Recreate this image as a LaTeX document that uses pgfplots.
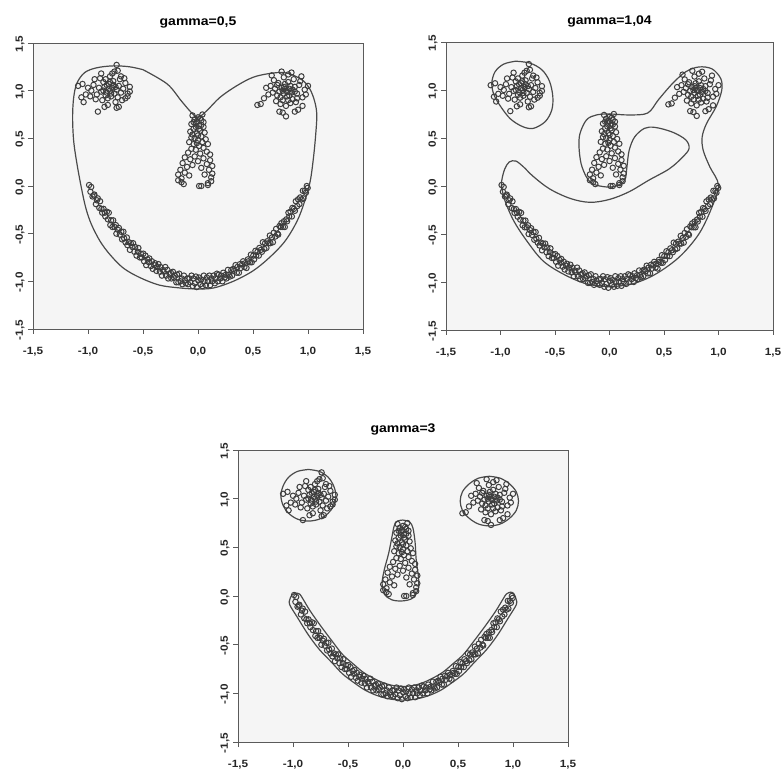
\documentclass[border=0pt]{standalone}
\usepackage{fontspec}
\setmainfont{Liberation Sans}[FakeStretch=1.12]
\usepackage{pgfplots}
\usepackage{pgfplotstable}
\pgfplotsset{compat=1.18}
\definecolor{pt}{HTML}{3E3E3E}
\definecolor{ln}{HTML}{4A4A4A}
\definecolor{bx}{HTML}{5A5A5A}

\pgfplotstableread{
x y
-0.80 1.00
-0.78 1.03
-0.83 0.98
-0.76 0.97
-0.85 1.04
-0.81 1.07
-0.74 1.01
-0.88 0.99
-0.79 0.94
-0.72 1.05
-0.86 1.09
-0.82 0.92
-0.70 0.98
-0.77 1.10
-0.90 1.03
-0.84 1.12
-0.73 0.93
-0.68 1.02
-0.92 0.96
-0.80 1.15
-0.87 0.90
-0.75 0.88
-0.66 1.08
-0.95 1.06
-0.78 1.18
-0.89 1.13
-0.71 1.12
-0.64 0.97
-0.93 0.91
-0.82 0.85
-0.69 0.90
-0.97 1.00
-0.76 1.20
-0.62 1.04
-0.85 0.83
-0.74 0.82
-0.72 0.83
-0.91 0.78
-1.00 1.03
-1.02 0.96
-1.05 1.07
-1.09 1.05
-1.06 0.93
-1.04 0.88
-0.74 1.27
-0.73 1.21
-0.88 1.18
-0.64 0.94
-0.62 0.99
-0.66 0.92
-0.94 1.12
-0.98 0.94
-0.79 0.97
-0.81 1.02
-0.77 1.06
-0.84 0.95
-0.86 1.00
-0.75 1.04
-0.80 1.09
-0.83 1.06
-0.70 1.15
-0.67 1.13
}\lefteye

\pgfplotstableread{
x y
0.80 1.00
0.78 0.97
0.83 1.02
0.76 1.03
0.85 0.98
0.81 0.94
0.74 0.99
0.88 1.04
0.79 1.07
0.72 0.95
0.86 0.91
0.82 1.09
0.70 1.02
0.77 0.90
0.90 0.97
0.84 0.87
0.73 1.08
0.68 0.98
0.92 1.06
0.80 0.84
0.87 1.12
0.75 0.86
0.66 1.05
0.95 0.93
0.78 1.14
0.89 0.88
0.71 0.89
0.64 0.96
0.93 1.10
0.82 1.17
0.69 1.11
0.97 1.01
0.76 1.20
0.62 1.03
0.85 1.19
0.74 0.78
0.77 0.77
0.80 0.73
1.00 1.05
0.98 0.96
0.95 0.84
0.91 0.80
0.57 0.86
0.54 0.85
0.67 1.16
0.94 1.15
0.60 0.92
0.88 0.78
0.79 1.02
0.81 0.99
0.83 0.95
0.77 1.00
0.75 0.93
0.84 1.05
0.86 1.01
0.78 1.04
0.72 1.06
0.90 0.92
0.82 0.90
0.88 0.99
}\righteye

\pgfplotstableread{
x y
0.00 0.72
-0.03 0.70
0.03 0.69
-0.05 0.74
0.04 0.75
-0.02 0.66
0.01 0.63
-0.06 0.65
0.05 0.62
-0.04 0.60
0.02 0.58
-0.01 0.55
0.06 0.56
-0.07 0.57
0.03 0.52
-0.03 0.50
0.00 0.48
-0.06 0.51
0.07 0.49
0.04 0.46
-0.04 0.44
0.01 0.42
-0.08 0.46
0.09 0.44
0.05 0.40
-0.02 0.38
-0.06 0.39
0.08 0.36
0.02 0.34
-0.09 0.35
0.11 0.33
-0.03 0.31
0.05 0.29
-0.07 0.28
0.11 0.27
-0.12 0.30
0.00 0.26
0.08 0.23
-0.05 0.22
0.13 0.21
-0.10 0.20
-0.14 0.24
0.03 0.19
0.10 0.17
-0.16 0.17
-0.12 0.14
0.13 0.13
-0.18 0.12
0.06 0.12
-0.08 0.11
0.12 0.09
-0.15 0.08
-0.18 0.06
0.12 0.05
-0.15 0.04
0.09 0.03
0.09 0.01
-0.13 0.02
0.01 0.00
0.03 0.00
-0.01 0.68
0.02 0.71
-0.04 0.67
0.01 0.60
-0.02 0.62
0.00 0.53
0.03 0.64
-0.05 0.54
0.05 0.67
-0.01 0.45
}\nose

\pgfplotstableread{
x y
-0.990 0.01
-0.978 -0.06
-0.971 -0.01
-0.959 -0.11
-0.947 -0.10
-0.942 -0.09
-0.928 -0.19
-0.919 -0.15
-0.911 -0.13
-0.897 -0.23
-0.890 -0.16
-0.878 -0.24
-0.871 -0.28
-0.859 -0.24
-0.847 -0.28
-0.842 -0.32
-0.828 -0.27
-0.819 -0.35
-0.811 -0.28
-0.797 -0.41
-0.790 -0.36
-0.778 -0.43
-0.771 -0.36
-0.759 -0.43
-0.747 -0.41
-0.742 -0.50
-0.728 -0.46
-0.719 -0.44
-0.711 -0.51
-0.697 -0.48
-0.690 -0.56
-0.678 -0.48
-0.671 -0.55
-0.659 -0.59
-0.647 -0.54
-0.642 -0.62
-0.628 -0.59
-0.619 -0.67
-0.611 -0.60
-0.597 -0.64
-0.590 -0.60
-0.578 -0.69
-0.571 -0.64
-0.559 -0.73
-0.547 -0.69
-0.542 -0.65
-0.528 -0.75
-0.519 -0.71
-0.511 -0.75
-0.497 -0.71
-0.490 -0.79
-0.478 -0.73
-0.471 -0.83
-0.459 -0.77
-0.447 -0.80
-0.442 -0.76
-0.428 -0.84
-0.419 -0.79
-0.411 -0.87
-0.397 -0.83
-0.390 -0.81
-0.378 -0.89
-0.371 -0.85
-0.359 -0.82
-0.347 -0.90
-0.342 -0.85
-0.328 -0.94
-0.319 -0.88
-0.311 -0.90
-0.297 -0.85
-0.290 -0.94
-0.278 -0.88
-0.271 -0.97
-0.259 -0.92
-0.247 -0.91
-0.242 -0.97
-0.228 -0.90
-0.219 -0.96
-0.211 -0.94
-0.197 -1.01
-0.190 -0.93
-0.178 -1.01
-0.171 -0.92
-0.159 -1.00
-0.147 -0.97
-0.142 -1.03
-0.128 -0.94
-0.119 -0.99
-0.111 -1.02
-0.097 -0.97
-0.090 -1.03
-0.078 -0.97
-0.071 -1.01
-0.059 -0.94
-0.047 -1.05
-0.042 -0.97
-0.028 -1.02
-0.019 -0.95
-0.011 -1.06
0.003 -0.99
0.010 -0.96
0.022 -1.03
0.029 -0.98
0.041 -1.05
0.053 -0.94
0.058 -1.00
0.072 -1.04
0.081 -0.96
0.089 -1.00
0.103 -0.94
0.110 -1.04
0.122 -0.97
0.129 -1.00
0.141 -0.94
0.153 -1.02
0.158 -0.97
0.172 -0.92
0.181 -1.00
0.189 -0.93
0.203 -0.97
0.210 -0.94
0.222 -1.00
0.229 -0.91
0.241 -0.96
0.253 -0.93
0.258 -0.97
0.272 -0.88
0.281 -0.93
0.289 -0.95
0.303 -0.88
0.310 -0.94
0.322 -0.87
0.329 -0.89
0.341 -0.83
0.353 -0.91
0.358 -0.85
0.372 -0.91
0.381 -0.82
0.389 -0.86
0.403 -0.82
0.410 -0.79
0.422 -0.85
0.429 -0.81
0.441 -0.86
0.453 -0.77
0.458 -0.79
0.472 -0.80
0.481 -0.72
0.489 -0.80
0.503 -0.73
0.510 -0.77
0.522 -0.68
0.529 -0.73
0.541 -0.69
0.553 -0.73
0.558 -0.65
0.572 -0.67
0.581 -0.69
0.589 -0.59
0.603 -0.66
0.610 -0.60
0.622 -0.65
0.629 -0.58
0.641 -0.60
0.653 -0.52
0.658 -0.60
0.672 -0.54
0.681 -0.59
0.689 -0.49
0.703 -0.53
0.710 -0.45
0.722 -0.50
0.729 -0.51
0.741 -0.42
0.753 -0.43
0.758 -0.39
0.772 -0.43
0.781 -0.37
0.789 -0.43
0.803 -0.35
0.810 -0.37
0.822 -0.28
0.829 -0.32
0.841 -0.27
0.853 -0.32
0.858 -0.23
0.872 -0.24
0.881 -0.26
0.889 -0.16
0.903 -0.21
0.910 -0.14
0.922 -0.19
0.929 -0.12
0.941 -0.14
0.953 -0.05
0.958 -0.13
0.972 -0.05
0.981 -0.07
0.989 0.00
0.997 -0.02
}\mouth

\pgfplotsset{
  smiley/.style={
    scale only axis,
    xmin=-1.5, xmax=1.5, ymin=-1.5, ymax=1.5,
    xtick={-1.5,-1,-0.5,0,0.5,1,1.5},
    ytick={-1.5,-1,-0.5,0,0.5,1,1.5},
    tick align=outside, xtick pos=left, ytick pos=left,
    major tick length=5pt,
    axis line style={draw=bx, line width=0.9pt},
    tick style={draw=bx, line width=0.9pt},
    axis background/.style={fill=black!4},
    ticklabel style={font=\fontsize{10.5}{12}\selectfont\bfseries, text=black!85},
    xticklabel style={yshift=-10pt},
    yticklabel style={rotate=90, anchor=south, xshift=-1pt},
    /pgf/number format/.cd, fixed, fixed zerofill, precision=1, use comma, assume math mode=true,
    /pgfplots/.cd,
    title style={font=\fontsize{12.5}{14}\selectfont\bfseries, yshift=5pt},
  },
  pts/.style={only marks, mark=o, mark size=2.7pt, mark options={draw=pt, line width=1pt}},
  cont/.style={smooth, tension=0.55, no marks, draw=ln, line width=1.2pt},
}

\begin{document}
\begin{tikzpicture}
\useasboundingbox (0pt,0pt) rectangle (783pt,770pt);

% ---------- gamma = 0,5 ----------
\begin{axis}[smiley, at={(33pt,441pt)}, anchor=south west, width=330pt, height=286pt, title={gamma=0,5}]
\addplot[pts] table {\lefteye};
\addplot[pts] table {\righteye};
\addplot[pts] table {\nose};
\addplot[pts] table {\mouth};
\addplot[cont] coordinates {
(-0.50,1.22) (-0.28,1.07) (-0.15,0.89) (-0.06,0.77) (0.00,0.72) (0.08,0.79) (0.20,0.93)
(0.35,1.05) (0.50,1.14) (0.65,1.18) (0.78,1.19) (0.87,1.16) (0.96,1.10) (1.02,1.01)
(1.06,0.89) (1.08,0.75) (1.07,0.54) (1.05,0.30) (1.02,0.05) (0.97,-0.16) (0.90,-0.37)
(0.79,-0.58) (0.65,-0.75) (0.50,-0.89) (0.32,-1.00) (0.14,-1.07) (-0.01,-1.08)
(-0.16,-1.07) (-0.35,-1.04) (-0.53,-0.96) (-0.68,-0.86) (-0.80,-0.72) (-0.89,-0.58)
(-0.97,-0.40) (-1.02,-0.23) (-1.06,-0.02) (-1.10,0.23) (-1.13,0.47) (-1.14,0.72)
(-1.13,0.93) (-1.10,1.08) (-1.03,1.19) (-0.92,1.24) (-0.77,1.26) (-0.62,1.25) (-0.50,1.22)
};
\end{axis}

% ---------- gamma = 1,04 ----------
\begin{axis}[smiley, at={(446pt,440pt)}, anchor=south west, width=327pt, height=288pt, title={gamma=1,04}]
\addplot[pts] table {\lefteye};
\addplot[pts] table {\righteye};
\addplot[pts] table {\nose};
\addplot[pts] table {\mouth};
\addplot[cont] coordinates {
(-0.86,1.30) (-0.73,1.28) (-0.62,1.21) (-0.55,1.09) (-0.52,0.93) (-0.53,0.79) (-0.59,0.67)
(-0.70,0.60) (-0.80,0.62) (-0.91,0.70) (-1.00,0.83) (-1.06,0.95) (-1.08,1.07) (-1.05,1.19)
(-0.97,1.27) (-0.86,1.30)
};
\addplot[cont] coordinates {
(0.00,-1.05) (0.21,-1.02) (0.42,-0.92) (0.64,-0.74) (0.82,-0.50) (0.94,-0.22) (1.00,0.01)
(0.92,0.20) (0.86,0.37) (0.85,0.51) (0.89,0.65) (0.98,0.83) (1.03,1.00) (1.02,1.12)
(0.94,1.22) (0.82,1.24) (0.70,1.19) (0.58,1.07) (0.45,0.90) (0.35,0.76) (0.18,0.74)
(0.00,0.75) (-0.12,0.74) (-0.21,0.69) (-0.27,0.55) (-0.28,0.41) (-0.26,0.23) (-0.21,0.09)
(-0.15,0.02) (-0.03,-0.01) (0.06,0.00) (0.14,0.06) (0.16,0.20) (0.18,0.37) (0.23,0.51)
(0.32,0.60) (0.42,0.61) (0.58,0.56) (0.70,0.48) (0.73,0.39) (0.67,0.30) (0.55,0.18)
(0.36,0.06) (0.18,-0.06) (0.00,-0.14) (-0.18,-0.17) (-0.36,-0.13) (-0.55,-0.03)
(-0.70,0.10) (-0.79,0.20) (-0.86,0.26) (-0.92,0.25) (-0.96,0.18) (-0.985,0.08) (-0.99,0.00)
(-0.96,-0.15) (-0.88,-0.36) (-0.76,-0.57) (-0.61,-0.78) (-0.42,-0.92) (-0.21,-1.02)
(0.00,-1.05)
};
\end{axis}

% ---------- gamma = 3 ----------
\begin{axis}[smiley, at={(238pt,28pt)}, anchor=south west, width=330pt, height=292pt, title={gamma=3}]
\addplot[pts] table {\lefteye};
\addplot[pts] table {\righteye};
\addplot[pts] table {\nose};
\addplot[pts] table {\mouth};
\addplot[cont] coordinates {
(-0.86,1.30) (-0.76,1.28) (-0.68,1.22) (-0.63,1.13) (-0.61,1.03) (-0.63,0.93) (-0.68,0.85)
(-0.76,0.79) (-0.86,0.77) (-0.96,0.79) (-1.04,0.85) (-1.09,0.93) (-1.11,1.03) (-1.09,1.13)
(-1.04,1.22) (-0.96,1.28) (-0.86,1.30)
};
\addplot[cont] coordinates {
(0.785,1.23) (0.885,1.21) (0.97,1.15) (1.03,1.07) (1.05,0.975) (1.03,0.88) (0.97,0.80)
(0.885,0.74) (0.785,0.72) (0.685,0.74) (0.60,0.80) (0.54,0.88) (0.52,0.975) (0.54,1.07)
(0.60,1.15) (0.685,1.21) (0.785,1.23)
};
\addplot[cont] coordinates {
(0.00,0.78) (0.06,0.76) (0.09,0.70) (0.11,0.55) (0.12,0.37) (0.14,0.20) (0.14,0.08)
(0.09,-0.02) (0.00,-0.05) (-0.10,-0.04) (-0.17,0.02) (-0.19,0.13) (-0.17,0.27)
(-0.13,0.44) (-0.10,0.61) (-0.08,0.72) (-0.05,0.77) (0.00,0.78)
};
\addplot[cont] coordinates {
(0.00,-1.07) (-0.11,-1.06) (-0.23,-1.025) (-0.34,-0.97) (-0.44,-0.895) (-0.55,-0.80)
(-0.65,-0.68) (-0.76,-0.55) (-0.86,-0.40) (-0.96,-0.22) (-1.03,-0.09) (-1.03,-0.04)
(-1.01,0.01) (-0.98,0.03) (-0.94,0.02) (-0.91,-0.03) (-0.84,-0.16) (-0.74,-0.32)
(-0.64,-0.47) (-0.55,-0.60) (-0.45,-0.70) (-0.36,-0.785) (-0.26,-0.85) (-0.17,-0.895)
(-0.09,-0.92) (0.00,-0.93) (0.09,-0.92) (0.17,-0.895) (0.26,-0.85) (0.36,-0.785)
(0.45,-0.70) (0.55,-0.60) (0.64,-0.47) (0.74,-0.32) (0.84,-0.16) (0.91,-0.03)
(0.94,0.02) (0.98,0.04) (1.01,0.02) (1.03,-0.04) (1.03,-0.09) (0.96,-0.22) (0.86,-0.40)
(0.76,-0.55) (0.65,-0.68) (0.55,-0.80) (0.44,-0.895) (0.34,-0.97) (0.23,-1.025)
(0.11,-1.06) (0.00,-1.07)
};
\end{axis}
\end{tikzpicture}
\end{document}
